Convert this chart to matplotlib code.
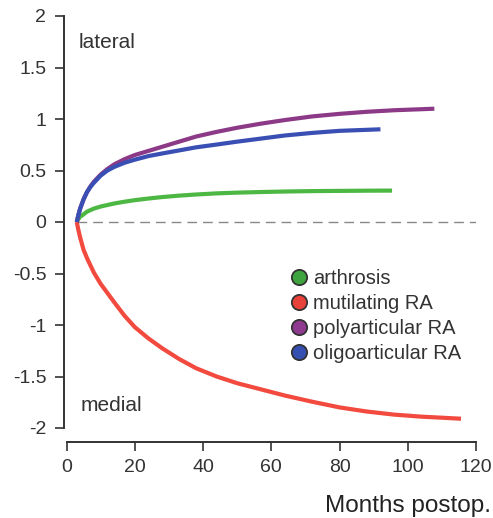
import matplotlib
matplotlib.use("Agg")
import matplotlib.pyplot as plt
from matplotlib.lines import Line2D

plt.rcParams['font.family'] = ['Liberation Sans', 'DejaVu Sans']

# Data (months postop. vs. displacement)
months_arthrosis = [3, 3.5, 4, 5, 6, 7, 8, 10, 12, 14, 17, 20, 24, 28, 33, 38, 44, 50, 57, 64, 72, 80, 88, 95.4]
arthrosis = [0, 0.03, 0.05, 0.075, 0.10, 0.115, 0.13, 0.15, 0.165, 0.18, 0.197, 0.212, 0.228, 0.242,
             0.256, 0.267, 0.278, 0.285, 0.291, 0.296, 0.30, 0.302, 0.304, 0.305]

months_mutilating = [3, 3.5, 4, 5, 6, 7, 8, 10, 12, 14, 17, 20, 24, 28, 33, 38, 44, 50, 57, 64, 72, 80,
                     88, 96, 104, 110, 115.6]
mutilating = [0, -0.08, -0.15, -0.27, -0.35, -0.42, -0.49, -0.60, -0.69, -0.78, -0.91, -1.02, -1.13,
              -1.225, -1.33, -1.42, -1.50, -1.565, -1.625, -1.685, -1.745, -1.80, -1.84, -1.87, -1.89,
              -1.90, -1.91]

months_poly = [3, 3.5, 4, 5, 6, 7, 8, 10, 12, 14, 17, 20, 24, 28, 33, 38, 44, 50, 57, 64, 72, 80, 88,
               96, 104, 107.8]
polyarticular = [0, 0.07, 0.13, 0.22, 0.29, 0.345, 0.39, 0.46, 0.515, 0.56, 0.61, 0.65, 0.69, 0.73,
                 0.78, 0.83, 0.875, 0.915, 0.955, 0.99, 1.025, 1.05, 1.07, 1.085, 1.095, 1.10]

months_oligo = [3, 3.5, 4, 5, 6, 7, 8, 10, 12, 14, 17, 20, 24, 28, 33, 38, 44, 50, 57, 64, 72, 80, 88, 92]
oligoarticular = [0, 0.07, 0.13, 0.22, 0.29, 0.34, 0.38, 0.45, 0.50, 0.535, 0.575, 0.605, 0.64, 0.665,
                  0.695, 0.725, 0.752, 0.78, 0.81, 0.84, 0.865, 0.885, 0.895, 0.90]

labels = ['arthrosis', 'mutilating RA', 'polyarticular RA', 'oligoarticular RA']
line_colors = ['#4cb843', '#f24a3e', '#8c3a88', '#3a4fb4']
marker_colors = ['#3fa33f', '#e8423a', '#8e3a8e', '#3550b0']

W, H = 493, 518
fig = plt.figure(figsize=(W / 100, H / 100), dpi=100)
ax = fig.add_axes([66.5 / W, (H - 428) / H, 409.5 / W, 412 / H])

ax.hlines(0, 3, 120, colors='#888888', linestyles=(0, (7, 4.3)), linewidth=1.0)

series = [(months_arthrosis, arthrosis), (months_mutilating, mutilating),
          (months_poly, polyarticular), (months_oligo, oligoarticular)]
for (mx, my), c in zip(series, line_colors):
    ax.plot(mx, my, color=c, linewidth=3, solid_capstyle='butt', solid_joinstyle='round')

ax.set_xlim(0, 120)
ax.set_ylim(-2, 2)
ax.set_xticks([0, 20, 40, 60, 80, 100, 120])
ax.set_yticks([-2, -1.5, -1, -0.5, 0, 0.5, 1, 1.5, 2])
ax.set_yticklabels(['-2', '-1.5', '-1', '-0.5', '0', '0.5', '1', '1.5', '2'])

for side in ['top', 'right']:
    ax.spines[side].set_visible(False)
ax.spines['left'].set_position(('outward', 2))
ax.spines['bottom'].set_position(('outward', 10))
ax.spines['left'].set_bounds(-2, 2)
ax.spines['bottom'].set_bounds(0, 120)
for side in ['left', 'bottom']:
    ax.spines[side].set_linewidth(1.4)
    ax.spines[side].set_color('#333333')
ax.tick_params(length=6.5, width=1.2, color='#333333', labelcolor='#333333',
               labelsize=14, pad=6)

ax.text(3.5, 1.74, 'lateral', fontsize=15, color='#333333', va='center')
ax.text(4, -1.78, 'medial', fontsize=15, color='#333333', va='center')

fig.text(491 / W, 6 / H, 'Months postop.', fontsize=17.5, color='#222222',
         ha='right', va='baseline')

handles = [Line2D([], [], linestyle='none', marker='o', markersize=11,
                  markerfacecolor=c, markeredgecolor='#333333', markeredgewidth=1.3)
           for c in marker_colors]
ax.legend(handles, labels, loc='upper left', bbox_to_anchor=(291 / W, 1 - 269 / H),
          bbox_transform=fig.transFigure, frameon=False, fontsize=14.5,
          handlelength=0.8, handletextpad=0.3, labelspacing=0.3,
          borderaxespad=0, borderpad=0, labelcolor='#333333')

fig.savefig('out.png', dpi=100)
